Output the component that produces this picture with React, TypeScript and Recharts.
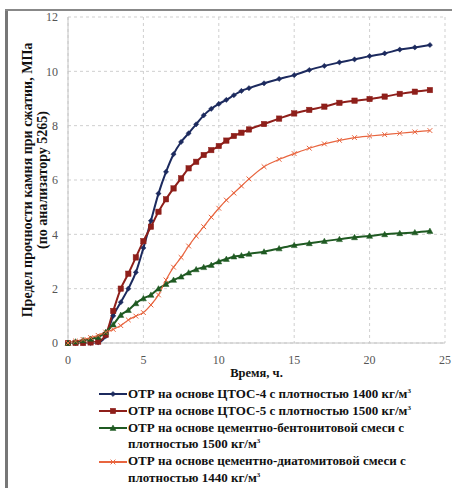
import React from 'react';
import { LineChart, Line, XAxis, YAxis, CartesianGrid } from 'recharts';

const times = [0, 0.5, 1, 1.5, 2, 2.5, 3, 3.5, 4, 4.5, 5, 5.5, 6, 6.5, 7, 7.5, 8, 8.5, 9, 9.5, 10, 10.5, 11, 11.5, 12, 13, 14, 15, 16, 17, 18, 19, 20, 21, 22, 23, 24];
const ctos4 = [0, 0, 0, 0, 0.02, 0.25, 1.0, 1.5, 2.0, 2.6, 3.5, 4.5, 5.5, 6.3, 6.95, 7.4, 7.72, 8.05, 8.38, 8.62, 8.8, 8.95, 9.12, 9.28, 9.38, 9.56, 9.72, 9.86, 10.05, 10.2, 10.33, 10.44, 10.56, 10.66, 10.8, 10.88, 10.97];
const ctos5 = [0, 0, 0, 0.02, 0.05, 0.3, 1.18, 2.0, 2.55, 3.15, 3.75, 4.28, 4.83, 5.29, 5.69, 6.06, 6.43, 6.67, 6.92, 7.1, 7.25, 7.45, 7.62, 7.74, 7.86, 8.06, 8.26, 8.45, 8.58, 8.7, 8.84, 8.92, 8.98, 9.07, 9.17, 9.25, 9.31];
const bentonite = [0, 0.05, 0.1, 0.15, 0.22, 0.4, 0.68, 1.03, 1.21, 1.46, 1.64, 1.77, 2.0, 2.17, 2.32, 2.44, 2.59, 2.71, 2.79, 2.87, 3.0, 3.09, 3.18, 3.22, 3.28, 3.36, 3.48, 3.6, 3.67, 3.75, 3.82, 3.89, 3.94, 4.0, 4.04, 4.07, 4.12];
const diatomite = [0, 0.07, 0.13, 0.2, 0.28, 0.4, 0.5, 0.64, 0.85, 0.99, 1.12, 1.4, 1.77, 2.32, 2.79, 3.15, 3.57, 3.94, 4.28, 4.63, 4.96, 5.26, 5.52, 5.78, 6.04, 6.49, 6.76, 6.97, 7.17, 7.33, 7.46, 7.56, 7.62, 7.67, 7.72, 7.77, 7.82];

const xTicks = [0, 5, 10, 15, 20, 25];
const yTicks = [0, 2, 4, 6, 8, 10, 12];

const series = [
  { key: 'ctos4', name: 'ОТР на основе ЦТОС-4 с плотностью 1400 кг/м', sup: '3', cont: '', color: '#1c2a5e', marker: 'diamond' },
  { key: 'ctos5', name: 'ОТР на основе ЦТОС-5 с плотностью 1500 кг/м', sup: '3', cont: '', color: '#8e1f1a', marker: 'square' },
  { key: 'bentonite', name: 'ОТР на основе цементно-бентонитовой смеси с', sup: '', cont: 'плотностью 1500 кг/м', color: '#1f5a22', marker: 'triangle' },
  { key: 'diatomite', name: 'ОТР на основе цементно-диатомитовой смеси с', sup: '', cont: 'плотностью 1440 кг/м', color: '#e8653f', marker: 'cross' },
];

const data = times.map((t, i) => ({
  t,
  ctos4: ctos4[i],
  ctos5: ctos5[i],
  bentonite: bentonite[i],
  diatomite: diatomite[i],
}));

function Marker({ cx, cy, type, color }: any) {
  if (cx == null || cy == null) return null;
  if (type === 'diamond') {
    const s = 2.6;
    return <path d={`M${cx},${cy - s} L${cx + s},${cy} L${cx},${cy + s} L${cx - s},${cy} Z`} fill={color} stroke={color} strokeWidth={0.5} />;
  }
  if (type === 'square') {
    const s = 2.7;
    return <rect x={cx - s} y={cy - s} width={2 * s} height={2 * s} fill={color} stroke={color} strokeWidth={0.5} />;
  }
  if (type === 'triangle') {
    const s = 3;
    return <path d={`M${cx},${cy - s} L${cx + s},${cy + s * 0.8} L${cx - s},${cy + s * 0.8} Z`} fill={color} stroke={color} strokeWidth={0.5} />;
  }
  const s = 2.4;
  return <path d={`M${cx - s},${cy - s} L${cx + s},${cy + s} M${cx + s},${cy - s} L${cx - s},${cy + s}`} stroke={color} strokeWidth={1} fill="none" />;
}

const serif = '"Liberation Serif", "DejaVu Serif", serif';

function YLabel({ viewBox }: any) {
  const cy = viewBox.y + viewBox.height / 2;
  return (
    <g fontFamily={serif} fontWeight="bold" fontSize={14} fill="#111">
      <text x={27} y={cy} textAnchor="middle" dominantBaseline="central" transform={`rotate(-90, 27, ${cy})`}>
        Предел прочности камня при сжатии, МПа
      </text>
      <text x={42} y={cy} textAnchor="middle" dominantBaseline="central" transform={`rotate(-90, 42, ${cy})`}>
        (по анализатору 5265)
      </text>
    </g>
  );
}

function LegendSwatch({ color, marker }: any) {
  return (
    <svg width={28} height={10} style={{ flex: 'none', marginRight: 1 }}>
      <line x1={0} y1={5} x2={28} y2={5} stroke={color} strokeWidth={2} />
      <Marker cx={14} cy={5} type={marker} color={color} />
    </svg>
  );
}

export default function App() {
  return (
    <div style={{ position: 'fixed', left: 0, top: 0, width: 452, height: 488, background: '#fff', overflow: 'hidden' }}>
      <div style={{ position: 'absolute', left: 5, top: 9, width: 3, height: 479, background: '#777' }} />
      <div style={{ position: 'absolute', left: 5, top: 9, width: 447, height: 2, background: '#888' }} />
      <div style={{ position: 'absolute', left: 0, top: 0 }}>
        <LineChart width={452} height={390} data={data} margin={{ top: 17, right: 7, bottom: 27, left: 0 }}>
          <CartesianGrid strokeDasharray="3 3" stroke="#cfcfcf" />
          <XAxis
            dataKey="t"
            type="number"
            domain={[0, 25]}
            ticks={xTicks}
            height={20}
            tickSize={0}
            tickMargin={12}
            stroke="#c4c4c4"
            tick={{ fill: '#555', fontSize: 12, fontFamily: serif }}
            label={{ value: 'Время, ч.', position: 'bottom', offset: 5, fill: '#111', fontSize: 12.5, fontWeight: 'bold', fontFamily: serif }}
          />
          <YAxis
            type="number"
            domain={[0, 12]}
            ticks={yTicks}
            width={68}
            tickSize={0}
            tickMargin={10}
            stroke="#c4c4c4"
            tick={{ fill: '#555', fontSize: 12, fontFamily: serif }}
            label={{ content: (p: any) => <YLabel {...p} /> }}
          />
          {series.map((s) => (
            <Line
              key={s.key}
              dataKey={s.key}
              type="monotone"
              stroke={s.color}
              strokeWidth={s.marker === 'cross' ? 1.2 : 2}
              isAnimationActive={false}
              dot={(p: any) => <Marker key={`${s.key}-${p.index}`} cx={p.cx} cy={p.cy} type={s.marker} color={s.color} />}
              activeDot={false}
            />
          ))}
        </LineChart>
      </div>
      <div style={{ position: 'absolute', left: 99, top: 386, fontFamily: serif, fontWeight: 'bold', fontSize: 13, color: '#111', lineHeight: '16.8px' }}>
        {series.map((s) => (
          <div key={s.key}>
            <div style={{ display: 'flex', alignItems: 'center', whiteSpace: 'nowrap' }}>
              <LegendSwatch color={s.color} marker={s.marker} />
              <span>
                {s.name}
                {s.sup ? <sup style={{ fontSize: 7, lineHeight: 0 }}>{s.sup}</sup> : null}
              </span>
            </div>
            {s.cont ? (
              <div style={{ paddingLeft: 29, whiteSpace: 'nowrap' }}>
                {s.cont}
                <sup style={{ fontSize: 7, lineHeight: 0 }}>3</sup>
              </div>
            ) : null}
          </div>
        ))}
      </div>
    </div>
  );
}
